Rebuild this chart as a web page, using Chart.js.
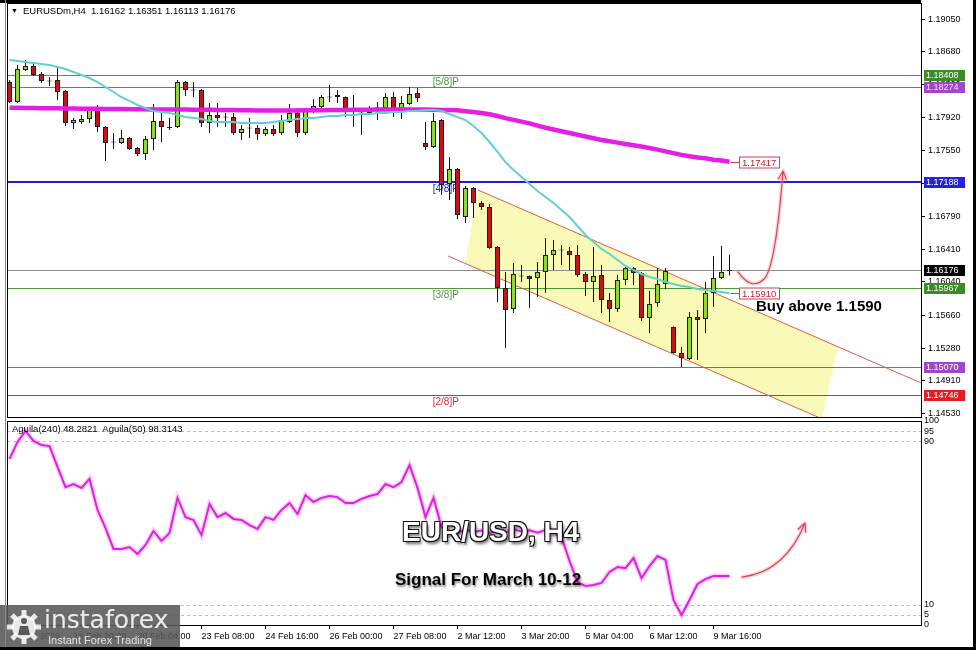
<!DOCTYPE html>
<html>
<head>
<meta charset="utf-8">
<title>EUR/USD H4</title>
<script src="https://cdn.jsdelivr.net/npm/chart.js@4.4.1/dist/chart.umd.min.js"></script>
<style>
  html, body { margin: 0; padding: 0; background: #fff; }
  #page { position: relative; width: 976px; height: 650px; overflow: hidden; background: #fff; font-family: "Liberation Sans", Arial, sans-serif; }
  #page canvas { position: absolute; left: 0; }
  #mainChart { top: -6px; }
  #aguilaChart { top: 412px; }
  .hdr { position: absolute; left: 11px; top: 6px; font-size: 9.5px; line-height: 1; color: #000; white-space: pre; }
  .hdr b { font-weight: normal; font-size: 7px; position: relative; top: -1px; margin-right: 5px; }
  .ind-title { position: absolute; left: 12px; top: 424px; font-size: 9.5px; line-height: 1; color: #000; white-space: pre; }
  .buy { position: absolute; left: 756px; top: 298px; font-weight: bold; font-size: 15px; line-height: 1; color: #000; white-space: nowrap; }
  .pair { position: absolute; left: 402px; top: 518px; font-weight: bold; font-size: 28px; line-height: 1; color: #fff; white-space: nowrap;
          text-shadow: -1px -1px 0 #111, 1px -1px 0 #111, -1px 1px 0 #111, 1px 1px 0 #111, 0 -1px 0 #111, 0 1px 0 #111, 2px 3px 3px rgba(0,0,0,0.6); }
  .signal { position: absolute; left: 395px; top: 571px; font-weight: bold; font-size: 17px; line-height: 1; color: #000; white-space: nowrap;
            text-shadow: 1px 2px 2px rgba(0,0,0,0.45); }
  .logo { position: absolute; left: 0; top: 605px; width: 180px; height: 45px; background: rgba(88,88,88,0.88); }
  .logo .big { position: absolute; left: 44px; top: 2px; font-family: "DejaVu Sans", sans-serif; font-size: 25px; line-height: 1; color: rgba(255,255,255,0.88); }
  .logo .small { position: absolute; left: 48px; top: 30px; font-size: 11px; line-height: 1; color: #e4e4e4; white-space: nowrap; }
  .bar { position: absolute; background: #000; }
</style>
</head>
<body>
<div id="page">
  <canvas id="mainChart" width="976" height="432"></canvas>
  <canvas id="aguilaChart" width="976" height="238"></canvas>

  <div class="hdr"><b>&#9660;</b>EURUSDm,H4  1.16162 1.16351 1.16113 1.16176</div>
  <div class="ind-title">Aguila(240) 48.2821  Aguila(50) 98.3143</div>
  <div class="buy">Buy above 1.1590</div>
  <div class="pair">EUR/USD, H4</div>
  <div class="signal">Signal For March 10-12</div>

  <div class="logo">
    <svg width="38" height="38" viewBox="0 0 38 38" style="position:absolute;left:5px;top:3px">
      <g fill="rgba(255,255,255,0.85)">
        <circle cx="19" cy="19" r="12"/>
        <rect x="16.5" y="2" width="5" height="7"/>
        <rect x="16.5" y="2" width="5" height="7" transform="rotate(45 19 19)"/>
        <rect x="16.5" y="2" width="5" height="7" transform="rotate(90 19 19)"/>
        <rect x="16.5" y="2" width="5" height="7" transform="rotate(135 19 19)"/>
        <rect x="16.5" y="2" width="5" height="7" transform="rotate(180 19 19)"/>
        <rect x="16.5" y="2" width="5" height="7" transform="rotate(225 19 19)"/>
        <rect x="16.5" y="2" width="5" height="7" transform="rotate(270 19 19)"/>
        <rect x="16.5" y="2" width="5" height="7" transform="rotate(315 19 19)"/>
      </g>
      <circle cx="19" cy="13" r="3" fill="#5a5a5a"/>
      <path d="M13 27 L15 18 L23 18 L25 27 Z" fill="#5a5a5a"/>
    </svg>
    <div class="big">instaforex</div>
    <div class="small">Instant Forex Trading</div>
  </div>

  <div class="bar" style="left:0;top:0;width:921px;height:3px"></div>
  <div class="bar" style="left:5px;top:0;width:1px;height:650px;background:#888"></div>
  <div class="bar" style="left:973px;top:0;width:3px;height:650px"></div>
  <div class="bar" style="left:0;top:647px;width:976px;height:3px"></div>
</div>

<script>
// ---- data (EURUSD H4, bar index 0 = 17 Feb 2026) ----
const opens = [
  1.18329, 1.18100, 1.18467, 1.18512, 1.18421, 1.18341, 1.18352, 1.18226, 1.17860, 1.17871,
  1.17905, 1.18009, 1.17814, 1.17642, 1.17631, 1.17688, 1.17573, 1.17505, 1.17676, 1.17883,
  1.17802, 1.17814, 1.18329, 1.18238, 1.18238, 1.17860, 1.17951, 1.17928, 1.17928, 1.17745,
  1.17802, 1.17802, 1.17734, 1.17791, 1.17745, 1.17871, 1.17974, 1.17745, 1.17986, 1.18043,
  1.18157, 1.18180, 1.18157, 1.17997, 1.17974, 1.17974, 1.18031, 1.18031, 1.18157, 1.18009,
  1.18077, 1.18203, 1.17631, 1.17585, 1.17894, 1.17161, 1.17333, 1.16783, 1.17115, 1.16944,
  1.16898, 1.16440, 1.15970, 1.15730, 1.16108, 1.16108, 1.16085, 1.16154, 1.16348, 1.16406,
  1.16394, 1.16348, 1.16131, 1.16039, 1.16119, 1.15833, 1.15730, 1.16062, 1.16199, 1.16142,
  1.15627, 1.15799, 1.16016, 1.15524, 1.15226, 1.15157, 1.15638, 1.15615, 1.15913, 1.16085,
  1.16162
];
const highs = [
  1.18352, 1.18524, 1.18581, 1.18535, 1.18444, 1.18386, 1.18489, 1.18238, 1.17917, 1.17951,
  1.18043, 1.18066, 1.17825, 1.17745, 1.17780, 1.17699, 1.17585, 1.17711, 1.18077, 1.17997,
  1.17917, 1.18352, 1.18341, 1.18329, 1.18249, 1.18089, 1.18089, 1.17974, 1.17974, 1.17837,
  1.17917, 1.17837, 1.17814, 1.17837, 1.17951, 1.18077, 1.18031, 1.18020, 1.18134, 1.18180,
  1.18295, 1.18238, 1.18163, 1.18180, 1.17986, 1.18054, 1.18100, 1.18203, 1.18215, 1.18169,
  1.18272, 1.18260, 1.17871, 1.17974, 1.17905, 1.17470, 1.17344, 1.17138, 1.17127, 1.16967,
  1.16932, 1.16451, 1.16154, 1.16257, 1.16234, 1.16114, 1.16268, 1.16543, 1.16520, 1.16463,
  1.16440, 1.16463, 1.16154, 1.16440, 1.16234, 1.15913, 1.16119, 1.16211, 1.16211, 1.16154,
  1.15936, 1.16199, 1.16199, 1.15530, 1.15295, 1.15696, 1.15719, 1.16039, 1.16337, 1.16451,
  1.16351
];
const lows = [
  1.18089, 1.18089, 1.18455, 1.18398, 1.18318, 1.18283, 1.18123, 1.17825, 1.17791, 1.17848,
  1.17860, 1.17757, 1.17425, 1.17562, 1.17619, 1.17551, 1.17482, 1.17436, 1.17551, 1.17642,
  1.17780, 1.17802, 1.18169, 1.18157, 1.17814, 1.17745, 1.17814, 1.17814, 1.17722, 1.17665,
  1.17688, 1.17665, 1.17711, 1.17711, 1.17722, 1.17860, 1.17699, 1.17722, 1.17974, 1.18031,
  1.18100, 1.18089, 1.17928, 1.17814, 1.17722, 1.17951, 1.17894, 1.18009, 1.17928, 1.17905,
  1.18066, 1.18100, 1.17551, 1.17573, 1.17035, 1.16978, 1.16760, 1.16715, 1.16772, 1.16864,
  1.16420, 1.15810, 1.15283, 1.15684, 1.16039, 1.15741, 1.15867, 1.15913, 1.16177, 1.16234,
  1.16177, 1.16096, 1.15879, 1.15810, 1.15684, 1.15581, 1.15696, 1.16005, 1.16005, 1.15593,
  1.15455, 1.15753, 1.15959, 1.15220, 1.15066, 1.15146, 1.15146, 1.15455, 1.15753, 1.16073,
  1.16113
];
const closes = [
  1.18100, 1.18478, 1.18512, 1.18409, 1.18341, 1.18336, 1.18215, 1.17860, 1.17894, 1.17905,
  1.18009, 1.17814, 1.17631, 1.17636, 1.17688, 1.17562, 1.17505, 1.17676, 1.17883, 1.17814,
  1.17808, 1.18329, 1.18238, 1.18232, 1.17860, 1.17951, 1.17917, 1.17922, 1.17745, 1.17791,
  1.17797, 1.17734, 1.17791, 1.17734, 1.17894, 1.17974, 1.17745, 1.18009, 1.18054, 1.18157,
  1.18152, 1.18157, 1.18009, 1.17992, 1.17969, 1.18031, 1.18026, 1.18157, 1.18009, 1.18089,
  1.18192, 1.18146, 1.17585, 1.17883, 1.17150, 1.17333, 1.16806, 1.17115, 1.16944, 1.16898,
  1.16428, 1.15970, 1.15719, 1.16131, 1.16103, 1.16073, 1.16154, 1.16348, 1.16406, 1.16400,
  1.16348, 1.16119, 1.16039, 1.16108, 1.15833, 1.15730, 1.16062, 1.16199, 1.16142, 1.15627,
  1.15787, 1.16016, 1.16165, 1.15226, 1.15169, 1.15638, 1.15604, 1.15913, 1.16085, 1.16154,
  1.16176
];
// slow MA (magenta) and fast MA (turquoise)
const maSlow = [
  1.18035, 1.18034, 1.18033, 1.18032, 1.18030, 1.18030, 1.18028, 1.18026, 1.18025, 1.18024,
  1.18023, 1.18022, 1.18021, 1.18020, 1.18019, 1.18018, 1.18017, 1.18016, 1.18015, 1.18015,
  1.18014, 1.18013, 1.18013, 1.18012, 1.18012, 1.18011, 1.18010, 1.18009, 1.18008, 1.18006,
  1.18005, 1.18004, 1.18003, 1.18002, 1.18002, 1.18003, 1.18004, 1.18005, 1.18006, 1.18007,
  1.18008, 1.18009, 1.18010, 1.18011, 1.18012, 1.18012, 1.18013, 1.18013, 1.18014, 1.18014,
  1.18015, 1.18015, 1.18014, 1.18012, 1.18010, 1.18008, 1.18005, 1.17995, 1.17985, 1.17975,
  1.17960, 1.17940, 1.17915, 1.17895, 1.17875, 1.17855, 1.17830, 1.17805, 1.17785, 1.17765,
  1.17745, 1.17725, 1.17705, 1.17685, 1.17665, 1.17650, 1.17635, 1.17620, 1.17605, 1.17590,
  1.17573, 1.17555, 1.17535, 1.17515, 1.17495, 1.17480, 1.17465, 1.17455, 1.17440, 1.17430,
  1.17417
];
const maFast = [
  1.18581, 1.18570, 1.18558, 1.18547, 1.18535, 1.18524, 1.18501, 1.18478, 1.18444, 1.18409,
  1.18375, 1.18329, 1.18272, 1.18215, 1.18157, 1.18112, 1.18066, 1.18031, 1.17997, 1.17986,
  1.17974, 1.17951, 1.17928, 1.17917, 1.17905, 1.17883, 1.17871, 1.17871, 1.17871, 1.17860,
  1.17860, 1.17860, 1.17860, 1.17871, 1.17883, 1.17894, 1.17905, 1.17917, 1.17917, 1.17928,
  1.17940, 1.17940, 1.17951, 1.17951, 1.17963, 1.17963, 1.17974, 1.17974, 1.17986, 1.17986,
  1.17997, 1.17997, 1.18009, 1.18009, 1.17997, 1.17963, 1.17928, 1.17894, 1.17825, 1.17745,
  1.17642, 1.17528, 1.17413, 1.17322, 1.17241, 1.17161, 1.17081, 1.17012, 1.16944, 1.16864,
  1.16783, 1.16680, 1.16577, 1.16497, 1.16417, 1.16360, 1.16291, 1.16222, 1.16177, 1.16131,
  1.16096, 1.16073, 1.16039, 1.16016, 1.15993, 1.15982, 1.15959, 1.15947, 1.15936, 1.15925,
  1.15910
];
// Aguila(50) oscillator
const aguila = [
  81.4, 89.7, 95.1, 90.2, 88.2, 87.7, 77.5, 67.6, 69.1, 67.2,
  71.6, 56.4, 47.5, 37.3, 37.3, 38.2, 34.8, 39.2, 46.1, 41.2,
  45.1, 62.3, 52.9, 51.5, 44.1, 59.3, 52.9, 54.9, 52.0, 51.5,
  49.0, 47.1, 52.9, 51.5, 56.4, 59.8, 54.4, 63.7, 60.3, 62.3,
  63.2, 62.7, 59.8, 59.8, 61.8, 63.2, 64.2, 69.1, 67.6, 70.1,
  78.4, 67.2, 52.9, 62.3, 48.0, 46.1, 45.2, 46.8, 45.6, 46.3,
  45.0, 46.5, 45.4, 46.9, 45.8, 46.4, 45.2, 46.6, 45.5, 43.2,
  31.4, 21.1, 19.1, 19.6, 20.6, 26.0, 28.4, 27.9, 32.8, 23.0,
  28.9, 33.8, 31.9, 12.3, 4.9, 12.3, 20.1, 22.5, 24.0, 24.0,
  24.0
];

const priceTicks = [1.19050, 1.18680, 1.18300, 1.17920, 1.17550, 1.17170, 1.16790, 1.16410, 1.16040, 1.15660, 1.15280, 1.14910, 1.14530];
const aguilaTicks = [100, 95, 90, 10, 5, 0];
const aguilaLevels = [95, 90, 10, 5];
const timeTickBars = [0, 8, 16, 24, 32, 40, 48, 56, 64, 72, 80, 88];
const timeTickLabels = ['17 Feb 2026', '18 Feb 20:00', '20 Feb 04:00', '23 Feb 08:00', '24 Feb 16:00', '26 Feb 00:00',
                        '27 Feb 08:00', '2 Mar 12:00', '3 Mar 20:00', '5 Mar 04:00', '6 Mar 12:00', '9 Mar 16:00'];

// Murrey levels and price tags
const levelPrices = [1.18408, 1.18274, 1.17188, 1.16176, 1.15967, 1.15070, 1.14746];
const levelNames = ['[5/8]P', '', '[4/8]P', '', '[3/8]P', '', '[2/8]P'];
const targetPrices = [1.17417, 1.15910];

// drawn objects, in (bar, price) / (bar, value)
const channelUpper = [[58.56, 1.17093], [113.94, 1.14883]];
const channelLower = [[54.81, 1.16337], [113.94, 1.13978]];
const channelFill = [[58.56, 1.17093], [103.56, 1.15295], [101.56, 1.14471], [56.94, 1.16257]];
const mainArrow = [[91.06, 1.16154], [92.81, 1.15925], [94.44, 1.16085], [95.56, 1.16222], [96.19, 1.16726], [96.69, 1.17310]];
const aguilaArrow = [[91.56, 23.5], [96.94, 26.0], [99.44, 50.0]];

// ---- styles ----
const levelColors = ['#4f963a', '#a24fc6', '#2020d2', '#8c8c8c', '#4f963a', '#a24fc6', '#e4262e'];
const levelWidths = [1, 1, 2, 1, 1, 1, 1];
const tagBg = ['#3c8c28', '#a046c8', '#2424d8', '#000000', '#3c8c28', '#a046c8', '#e31e27'];
const tagFg = ['#ffffff', '#ffd8ff', '#ffffff', '#ffffff', '#ffffff', '#ffffff', '#ffffff'];
const X_MIN = -0.3125, X_MAX = 113.9375;
const levelNameBar = 52.9;
const calloutBar = 91.2;
const FONT = '"Liberation Sans", Arial, sans-serif';

Chart.defaults.font.family = FONT;
Chart.defaults.font.size = 9;
Chart.defaults.color = '#000';

const bars = opens.map((_, i) => i);
const isDoji = i => Math.abs(closes[i] - opens[i]) < 0.00008;
const bodyColor = i => isDoji(i) ? '#1a1a1a' : (closes[i] > opens[i] ? '#8fd83c' : '#c0161c');

function strokeArrow(ctx, P) {
  const draw = () => {
    ctx.beginPath();
    ctx.moveTo(P[0][0], P[0][1]);
    ctx.quadraticCurveTo(P[1][0], P[1][1], P[2][0], P[2][1]);
    if (P.length === 6) ctx.bezierCurveTo(P[3][0], P[3][1], P[4][0], P[4][1], P[5][0], P[5][1]);
    const t = P[P.length - 1], s = P[P.length - 2];
    const ang = Math.atan2(t[1] - s[1], t[0] - s[0]);
    ctx.moveTo(t[0] + 9 * Math.cos(ang + Math.PI - 0.45), t[1] + 9 * Math.sin(ang + Math.PI - 0.45));
    ctx.lineTo(t[0], t[1]);
    ctx.lineTo(t[0] + 9 * Math.cos(ang + Math.PI + 0.45), t[1] + 9 * Math.sin(ang + Math.PI + 0.45));
    ctx.stroke();
  };
  ctx.save();
  ctx.lineCap = 'round'; ctx.lineJoin = 'round';
  ctx.strokeStyle = 'rgba(245,140,150,0.35)'; ctx.lineWidth = 4; draw();
  ctx.strokeStyle = '#e0404f'; ctx.lineWidth = 1.2; draw();
  ctx.restore();
}

function frame(ctx, a) {
  ctx.save();
  ctx.strokeStyle = '#000'; ctx.lineWidth = 1;
  ctx.strokeRect(Math.round(a.left) + 0.5, Math.round(a.top) + 0.5, Math.round(a.right - a.left), Math.round(a.bottom - a.top));
  ctx.restore();
}

const mainOverlay = {
  id: 'mainOverlay',
  beforeDatasetsDraw(chart) {
    const { ctx, chartArea: a, scales: { x, y } } = chart;
    const P = ([i, v]) => [x.getPixelForValue(i), y.getPixelForValue(v)];
    ctx.save();
    ctx.beginPath(); ctx.rect(a.left, a.top, a.right - a.left, a.bottom - a.top); ctx.clip();
    // channel fill
    ctx.fillStyle = 'rgb(250,250,184)';
    ctx.beginPath();
    channelFill.map(P).forEach(([X, Y], k) => k ? ctx.lineTo(X, Y) : ctx.moveTo(X, Y));
    ctx.closePath(); ctx.fill();
    // horizontal levels
    levelPrices.forEach((p, k) => {
      const Y = Math.round(y.getPixelForValue(p)) + (levelWidths[k] % 2 ? 0.5 : 0);
      ctx.strokeStyle = levelColors[k]; ctx.lineWidth = levelWidths[k];
      ctx.beginPath(); ctx.moveTo(a.left, Y); ctx.lineTo(a.right, Y); ctx.stroke();
      if (levelNames[k]) {
        ctx.fillStyle = levelColors[k];
        ctx.font = '10px ' + FONT; ctx.textBaseline = 'top'; ctx.textAlign = 'left';
        ctx.fillText(levelNames[k], x.getPixelForValue(levelNameBar), Y + 2);
      }
    });
    // channel borders
    ctx.strokeStyle = '#dc5a48'; ctx.lineWidth = 1;
    [channelUpper, channelLower].forEach(seg => {
      const [p0, p1] = seg.map(P);
      ctx.beginPath(); ctx.moveTo(p0[0], p0[1]); ctx.lineTo(p1[0], p1[1]); ctx.stroke();
    });
    ctx.restore();
  },
  afterDatasetsDraw(chart) {
    const { ctx, chartArea: a, scales: { x, y } } = chart;
    const P = ([i, v]) => [x.getPixelForValue(i), y.getPixelForValue(v)];
    ctx.save();
    // price callouts at the end of the averages
    const endX = x.getPixelForValue(bars[bars.length - 1]) + 1;
    const bx = Math.round(x.getPixelForValue(calloutBar)) + 0.5;
    targetPrices.forEach(p => {
      const Y = Math.round(y.getPixelForValue(p)) + 0.5;
      ctx.strokeStyle = '#d23c55'; ctx.lineWidth = 1;
      ctx.beginPath(); ctx.moveTo(endX, Y); ctx.lineTo(bx, Y); ctx.stroke();
      ctx.fillStyle = '#fff'; ctx.fillRect(bx, Y - 5.5, 40, 11);
      ctx.strokeRect(bx, Y - 5.5, 40, 11);
      ctx.fillStyle = '#c0203a'; ctx.font = '9.5px ' + FONT; ctx.textBaseline = 'middle'; ctx.textAlign = 'left';
      ctx.fillText(p.toFixed(5), bx + 2.5, Y + 0.5);
    });
    ctx.restore();
    strokeArrow(ctx, mainArrow.map(P));
    frame(ctx, a);
  },
  afterDraw(chart) {
    const { ctx, chartArea: a, scales: { y } } = chart;
    ctx.save();
    levelPrices.forEach((p, k) => {
      const Y = Math.round(y.getPixelForValue(p));
      ctx.fillStyle = tagBg[k];
      ctx.fillRect(a.right + 3, Y - 5, 41, 11);
      ctx.fillStyle = tagFg[k]; ctx.font = '9px ' + FONT; ctx.textBaseline = 'middle'; ctx.textAlign = 'left';
      ctx.fillText(p.toFixed(5), a.right + 5, Y + 0.5);
    });
    ctx.restore();
  }
};

new Chart(document.getElementById('mainChart'), {
  type: 'bar',
  data: {
    datasets: [
      { type: 'line', label: 'MA fast', data: bars.map(i => ({ x: i, y: maFast[i] })), borderColor: '#62d0d0', borderWidth: 2, pointRadius: 0, tension: 0, order: 0 },
      { type: 'line', label: 'MA slow', data: bars.map(i => ({ x: i, y: maSlow[i] })), borderColor: '#e41fe4', borderWidth: 4.5, pointRadius: 0, tension: 0, order: 1 },
      { label: 'body', data: bars.map(i => ({ x: i, y: [opens[i], closes[i]] })), grouped: false, barThickness: 5, minBarLength: 1,
        backgroundColor: ctx => bodyColor(ctx.dataIndex), borderColor: '#1d1d1d', borderWidth: 1, borderSkipped: false, inflateAmount: 0, order: 2 },
      { label: 'wick', data: bars.map(i => ({ x: i, y: [lows[i], highs[i]] })), grouped: false, barThickness: 1,
        backgroundColor: '#111', borderWidth: 0, inflateAmount: 0, order: 3 }
    ]
  },
  options: {
    responsive: false, animation: false, devicePixelRatio: 1, events: [],
    layout: { padding: { left: 7, top: 9, right: 0, bottom: 9 } },
    plugins: { legend: { display: false }, tooltip: { enabled: false } },
    scales: {
      x: { type: 'linear', min: X_MIN, max: X_MAX, offset: false, display: false },
      y: {
        position: 'right', min: 1.14493, max: 1.19234,
        afterFit: s => { s.width = 55; },
        afterBuildTicks: s => { s.ticks = priceTicks.map(v => ({ value: v })); },
        ticks: { callback: v => v.toFixed(5), padding: 3, autoSkip: false, font: { size: 9 } },
        grid: { drawOnChartArea: false, drawTicks: true, tickLength: 4, tickColor: '#000', color: '#000' },
        border: { display: false }
      }
    }
  },
  plugins: [mainOverlay]
});

const aguilaOverlay = {
  id: 'aguilaOverlay',
  beforeDatasetsDraw(chart) {
    const { ctx, chartArea: a, scales: { y } } = chart;
    ctx.save();
    ctx.strokeStyle = '#bdbdbd'; ctx.lineWidth = 1; ctx.setLineDash([3, 3]);
    aguilaLevels.forEach(v => {
      const Y = Math.round(y.getPixelForValue(v)) + 0.5;
      ctx.beginPath(); ctx.moveTo(a.left, Y); ctx.lineTo(a.right, Y); ctx.stroke();
    });
    ctx.restore();
  },
  afterDraw(chart) {
    const { ctx, chartArea: a, scales: { x, y } } = chart;
    strokeArrow(ctx, aguilaArrow.map(([i, v]) => [x.getPixelForValue(i), y.getPixelForValue(v)]));
    frame(ctx, a);
  }
};

const aguilaPoints = bars.map(i => ({ x: i, y: aguila[i] }));
new Chart(document.getElementById('aguilaChart'), {
  type: 'line',
  data: {
    datasets: [
      { label: 'Aguila(50)', data: aguilaPoints, borderColor: '#e020e0', borderWidth: 2, pointRadius: 0, tension: 0, order: 0 },
      { label: 'glow', data: aguilaPoints, borderColor: 'rgba(240,120,240,0.35)', borderWidth: 5, pointRadius: 0, tension: 0, order: 1 }
    ]
  },
  options: {
    responsive: false, animation: false, devicePixelRatio: 1, events: [],
    layout: { padding: { left: 7, top: 9, right: 0, bottom: 0 } },
    plugins: { legend: { display: false }, tooltip: { enabled: false } },
    scales: {
      x: {
        type: 'linear', min: X_MIN, max: X_MAX, offset: false,
        afterFit: s => { s.height = 25; },
        afterBuildTicks: s => { s.ticks = timeTickBars.map(v => ({ value: v })); },
        ticks: { callback: (v, k) => timeTickLabels[k], align: 'start', maxRotation: 0, autoSkip: false, padding: 2, font: { size: 9 } },
        grid: { drawOnChartArea: false, drawTicks: true, tickLength: 4, tickColor: '#000', color: '#000' },
        border: { display: false }
      },
      y: {
        position: 'right', min: 0, max: 100,
        afterFit: s => { s.width = 55; },
        afterBuildTicks: s => { s.ticks = aguilaTicks.map(v => ({ value: v })); },
        ticks: { padding: 3, autoSkip: false, font: { size: 9 } },
        grid: { display: false, drawTicks: false },
        border: { display: false }
      }
    }
  },
  plugins: [aguilaOverlay]
});
</script>
</body>
</html>
